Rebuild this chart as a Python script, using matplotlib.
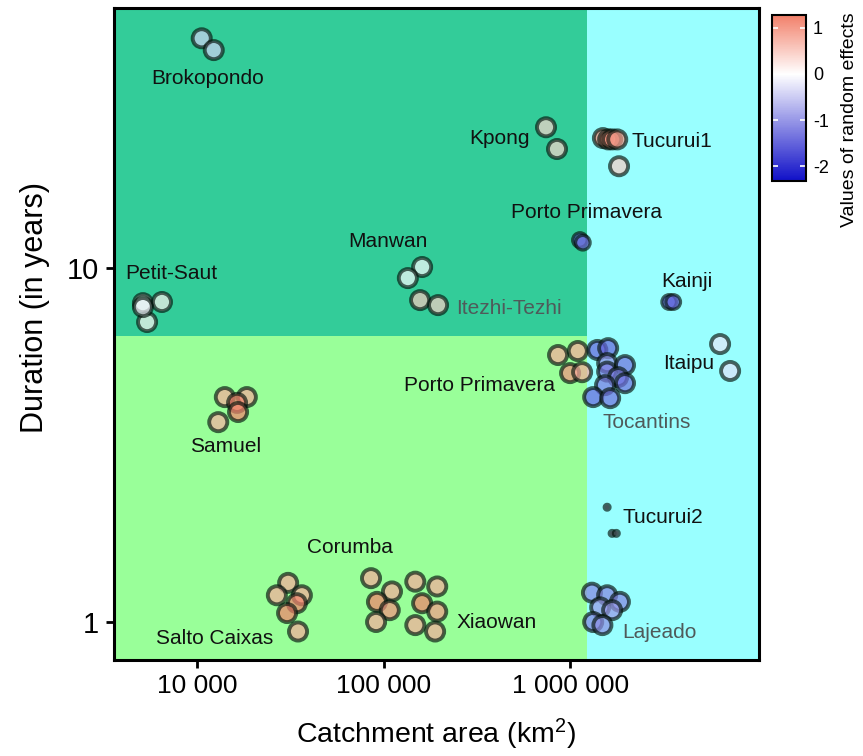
import matplotlib
matplotlib.use("Agg")
import matplotlib.pyplot as plt
import numpy as np
from matplotlib.colors import LinearSegmentedColormap, Normalize
from matplotlib.cm import ScalarMappable
from matplotlib.patches import Rectangle

plt.rcParams["font.family"] = ["Liberation Sans", "DejaVu Sans"]
plt.rcParams["mathtext.default"] = "regular"
plt.rcParams["axes.unicode_minus"] = False

# --- data ---
site = (["Brokopondo"] * 2 + ["Kpong"] * 2 + ["Tucurui1"] * 5 + ["Porto Primavera A"] * 2
        + ["Kainji"] * 2 + ["Itaipu"] * 2 + ["Petit-Saut"] * 4 + ["Manwan"] * 2
        + ["Itezhi-Tezhi"] * 2 + ["Samuel"] * 5 + ["Porto Primavera B"] * 4
        + ["Tocantins"] * 10 + ["Tucurui2"] * 3 + ["Lajeado"] * 7 + ["Salto Caixas"] * 6
        + ["Corumba"] * 5 + ["Xiaowan"] * 6)

area_km2 = [10600, 12300,
            743000, 851000,
            1.50e6, 1.60e6, 1.68e6, 1.79e6, 1.83e6,
            1.13e6, 1.17e6,
            3.40e6, 3.57e6,
            6.37e6, 7.21e6,
            5130, 6490, 5400, 5130,
            161000, 135000,
            157000, 196000,
            14100, 18500, 16400, 16600, 13000,
            862000, 1.10e6, 1.00e6, 1.16e6,
            1.40e6, 1.60e6, 1.58e6, 1.58e6, 1.97e6, 1.81e6, 1.97e6, 1.54e6, 1.33e6, 1.64e6,
            1.58e6, 1.68e6, 1.77e6,
            1.31e6, 1.58e6, 1.85e6, 1.45e6, 1.68e6, 1.33e6, 1.49e6,
            30800, 26800, 36500, 34300, 30400, 34800,
            85700, 111000, 92200, 108000, 91200,
            148000, 194000, 161000, 194000, 148000, 189000]

duration_yr = [44.6, 41.3,
               25.0, 21.7,
               23.3, 23.1, 23.1, 23.1, 19.4,
               12.0, 11.8,
               8.02, 8.02,
               6.10, 5.12,
               7.96, 8.02, 7.04, 7.76,
               10.07, 9.37,
               8.12, 7.86,
               4.32, 4.32, 4.16, 3.92, 3.67,
               5.68, 5.83, 5.05, 5.08,
               5.87, 5.94, 5.39, 5.10, 5.32, 4.92, 4.73, 4.67, 4.32, 4.29,
               2.11, 1.78, 1.78,
               1.21, 1.19, 1.14, 1.10, 1.08, 1.00, 0.98,
               1.29, 1.19, 1.19, 1.13, 1.06, 0.94,
               1.33, 1.22, 1.14, 1.08, 1.00,
               1.30, 1.26, 1.13, 1.07, 0.98, 0.94]

random_effect = [-0.45, -0.45,
                 0.45, 0.45,
                 1.2, 1.25, 1.1, 1.0, 0.5,
                 -1.5, -1.4,
                 -1.6, -1.5,
                 -0.25, -0.3,
                 0.1, 0.15, 0.1, -0.1,
                 -0.05, -0.05,
                 0.55, 0.5,
                 0.85, 0.85, 1.28, 1.25, 0.8,
                 0.85, 0.85, 1.1, 0.85,
                 -1.5, -1.5, -1.1, -1.3, -1.4, -1.3, -1.4, -1.3, -1.5, -1.4,
                 -0.5, -0.4, -0.4,
                 -1.2, -1.2, -1.2, -1.0, -1.0, -1.2, -1.1,
                 0.85, 0.85, 0.85, 1.25, 1.28, 0.85,
                 0.85, 0.85, 1.28, 1.1, 0.85,
                 0.85, 0.85, 1.28, 1.0, 0.85, 0.85]

# site labels: text, position (data coords), grey or black
labels = [
    ("Brokopondo", 11460, 34.4, False),
    ("Kpong", 416000, 23.3, False),
    ("Tucurui1", 3.52e6, 22.8, False),
    ("Porto Primavera", 1.23e6, 14.4, False),
    ("Manwan", 106000, 11.9, False),
    ("Petit-Saut", 7260, 9.68, False),
    ("Kainji", 4.24e6, 9.19, False),
    ("Itezhi-Tezhi", 4.7e5, 7.71, True),
    ("Itaipu", 4.35e6, 5.36, False),
    ("Porto Primavera", 325000, 4.67, False),
    ("Tocantins", 2.59e6, 3.65, True),
    ("Samuel", 14300, 3.14, False),
    ("Tucurui2", 3.16e6, 1.98, False),
    ("Corumba", 66100, 1.62, False),
    ("Xiaowan", 406000, 0.994, False),
    ("Salto Caixas", 12490, 0.901, False),
    ("Lajeado", 3.0e6, 0.931, True),
]

x_ticks = [1e4, 1e5, 1e6]
x_tick_labels = ["10 000", "100 000", "1 000 000"]
y_ticks = [1, 10]
y_tick_labels = ["1", "10"]
cbar_ticks = [1, 0, -1, -2]

# --- style ---
small_sites = {"Porto Primavera A": (110, 2.4), "Kainji": (110, 2.4), "Tucurui2": (12, 3.0)}
big_size = (170, 2.8)
vmin, vmax = -2.32, 1.28
split_x, split_y = 1.23e6, 6.43
xlim = (3590, 1.03e7)
ylim = (0.781, 54.2)

cmap = LinearSegmentedColormap.from_list(
    "re", [(0.0, "#1010c8"), (-vmin / (vmax - vmin), "#ffffff"), (1.0, "#f2806a")])
norm = Normalize(vmin=vmin, vmax=vmax)

fig = plt.figure(figsize=(8.63, 7.56), dpi=100)
ax = fig.add_axes([0.1321, 0.127, 0.7474, 0.862])
ax.set_xscale("log")
ax.set_yscale("log")
ax.set_xlim(*xlim)
ax.set_ylim(*ylim)

# background regions
ax.add_patch(Rectangle((1e3, split_y), split_x - 1e3, 1e3, facecolor="#33cc99", edgecolor="none", zorder=0))
ax.add_patch(Rectangle((1e3, 0.1), split_x - 1e3, split_y - 0.1, facecolor="#99ff99", edgecolor="none", zorder=0))
ax.add_patch(Rectangle((split_x, 0.1), 1e8, 1e4, facecolor="#99ffff", edgecolor="none", zorder=0))

face = cmap(norm(np.array(random_effect)))
face[:, 3] = 0.7
sizes = [small_sites.get(s, big_size)[0] for s in site]
lws = [small_sites.get(s, big_size)[1] for s in site]
ax.scatter(area_km2, duration_yr, s=sizes, c=face, edgecolors=(0.02, 0.08, 0.05, 0.66),
           linewidths=lws, zorder=3)

for text, lx, ly, grey in labels:
    ax.text(lx, ly, text, ha="center", va="center", fontsize=15,
            color="#4f5a5a" if grey else "#111111", zorder=4)

ax.set_xticks(x_ticks)
ax.set_xticklabels(x_tick_labels)
ax.set_yticks(y_ticks)
ax.set_yticklabels(y_tick_labels)
ax.minorticks_off()
ax.tick_params(axis="x", labelsize=19, length=6, width=2, direction="out", pad=4)
ax.tick_params(axis="y", labelsize=21, length=6, width=2, direction="out", pad=5)
for sp in ax.spines.values():
    sp.set_linewidth(2.2)
ax.set_xlabel("Catchment area (km$^2$)", fontsize=20.5)
ax.set_ylabel("Duration (in years)", fontsize=22)
ax.xaxis.set_label_coords(0.5, -0.087)
ax.yaxis.set_label_coords(-0.1, 0.541)

# colorbar
cax = fig.add_axes([0.8946, 0.7606, 0.0394, 0.2196])
sm = ScalarMappable(norm=norm, cmap=cmap)
cb = fig.colorbar(sm, cax=cax, ticks=cbar_ticks)
cb.outline.set_linewidth(1.5)
cax.tick_params(direction="in", length=4, width=1.2, color="white",
                labelsize=13, left=True, right=True, pad=5)
fig.text(0.984, 0.842, "Values of random effects", rotation=90,
         ha="center", va="center", fontsize=14)

fig.savefig("out.png", dpi=100)
